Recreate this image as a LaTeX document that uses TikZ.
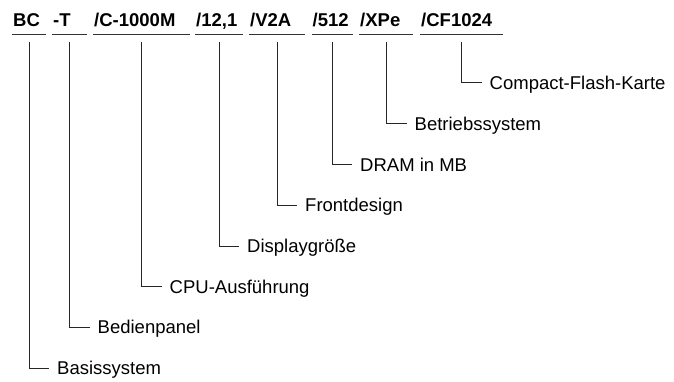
\documentclass[tikz,border=0pt]{standalone}
\usepackage{fontspec}
\setmainfont{Liberation Sans}
\usetikzlibrary{positioning}
\tikzset {
  % part of the order code
  code/.style = {anchor=south west, font=\bfseries\fontsize{18.5}{22}\selectfont,
    inner xsep=1pt, inner ysep=7.5pt, text depth=0pt, align=left},
  % explanation of one part
  expl/.style = {anchor=west, font=\fontsize{18.5}{22}\selectfont,
    inner xsep=8pt, inner ysep=0pt, text height=13.2pt, text depth=0pt},
  % line under a part and the leader to its explanation
  rule/.style = {draw=black!80, line width=0.9pt},
  lead/.style = {draw=black!85, line width=1pt},
}

\begin{document}
\begin{tikzpicture}[x=1pt, y=-1pt]
  \useasboundingbox (0,0) rectangle (674,382);

  \node[code, text width=32pt] (bc) at (12,34.5) {BC};
  \node[code, text width=33pt] (t) at (52,34.5) {-T};
  \node[code, text width=95pt] (cpu) at (93,34.5) {/C-1000M};
  \node[code, text width=46pt] (disp) at (195,34.5) {/12,1};
  \node[code, text width=54pt] (front) at (249,34.5) {/V2A};
  \node[code, text width=39pt] (dram) at (311.5,34.5) {/512};
  \node[code, text width=52pt] (os) at (359,34.5) {/XPe};
  \node[code, text width=81pt] (cf) at (420,34.5) {/CF1024};

  \draw[rule] (bc.south west) -- (bc.south east);
  \draw[rule] (t.south west) -- (t.south east);
  \draw[rule] (cpu.south west) -- (cpu.south east);
  \draw[rule] (disp.south west) -- (disp.south east);
  \draw[rule] (front.south west) -- (front.south east);
  \draw[rule] (dram.south west) -- (dram.south east);
  \draw[rule] (os.south west) -- (os.south east);
  \draw[rule] (cf.south west) -- (cf.south east);

  \node[expl] (cfkarte) at (481.5,83) {Compact-Flash-Karte};
  \node[expl] (betrieb) at (406.5,124) {Betriebssystem};
  \node[expl] (drammb) at (352,164.5) {DRAM in MB};
  \node[expl] (design) at (297,205) {Frontdesign};
  \node[expl] (groesse) at (239,246) {Displaygröße};
  \node[expl] (ausf) at (161.5,286.5) {CPU-Ausführung};
  \node[expl] (panel) at (89.5,327) {Bedienpanel};
  \node[expl] (basis) at (49,368) {Basissystem};

  \draw[lead] ([yshift=-7.5pt]bc.south) |- (basis.west);
  \draw[lead] ([yshift=-7.5pt]t.south) |- (panel.west);
  \draw[lead] ([yshift=-7.5pt]cpu.south) |- (ausf.west);
  \draw[lead] ([yshift=-7.5pt]disp.south) |- (groesse.west);
  \draw[lead] ([yshift=-7.5pt]front.south) |- (design.west);
  \draw[lead] ([yshift=-7.5pt]dram.south) |- (drammb.west);
  \draw[lead] ([yshift=-7.5pt]os.south) |- (betrieb.west);
  \draw[lead] ([yshift=-7.5pt]cf.south) |- (cfkarte.west);
\end{tikzpicture}
\end{document}
